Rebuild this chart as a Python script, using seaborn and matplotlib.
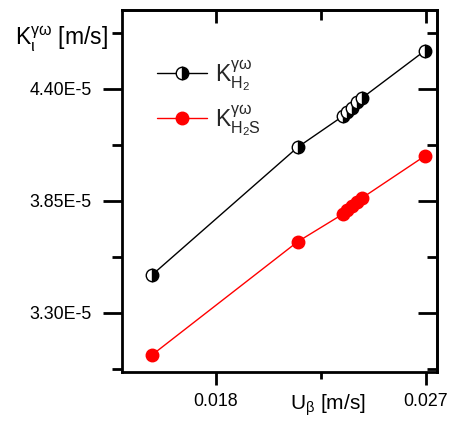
import numpy as np
import pandas as pd
import matplotlib
matplotlib.use("Agg")
import matplotlib.pyplot as plt
from matplotlib.ticker import MultipleLocator, FuncFormatter
import seaborn as sns

# Flow velocity U_beta [m/s] shared by both gases
u_beta = [0.01526, 0.0215, 0.02344, 0.02363, 0.02383, 0.02406, 0.02426, 0.02695]
# Mass transfer coefficient K [m/s]
k_h2 = [3.487e-5, 4.114e-5, 4.267e-5, 4.287e-5, 4.309e-5, 4.334e-5, 4.356e-5, 4.588e-5]
k_h2s = [3.094e-5, 3.650e-5, 3.786e-5, 3.806e-5, 3.825e-5, 3.845e-5, 3.865e-5, 4.071e-5]

labels = [r"K$^{\gamma\omega}_{\mathregular{H_2}}$", r"K$^{\gamma\omega}_{\mathregular{H_2S}}$"]

sns.set_theme(style="white")
plt.rcParams["font.family"] = ["Liberation Sans", "DejaVu Sans"]
plt.rcParams["mathtext.fontset"] = "custom"
plt.rcParams["mathtext.rm"] = "Liberation Sans"
plt.rcParams["mathtext.it"] = "Liberation Sans"
plt.rcParams["mathtext.bf"] = "Liberation Sans:bold"

df = pd.DataFrame({"u": u_beta, "h2": k_h2, "h2s": k_h2s})

fig = plt.figure(figsize=(4.5, 4.22), dpi=100)
ax = fig.add_axes([122 / 450, 1 - 372 / 422, 315 / 450, 362 / 422])

sns.lineplot(data=df, x="u", y="h2", ax=ax, color="black", lw=1.0,
             marker="o", markersize=9, fillstyle="right",
             markerfacecolor="black", markerfacecoloralt="white",
             markeredgecolor="black", markeredgewidth=1.0, label=labels[0])
sns.lineplot(data=df, x="u", y="h2s", ax=ax, color="red", lw=1.0,
             marker="o", markersize=9, markerfacecolor="red",
             markeredgecolor="red", markeredgewidth=1.0, label=labels[1])

ax.set_xlim(0.01397, 0.02747)
ax.set_ylim(3.010e-5, 4.788e-5)

ax.xaxis.set_major_locator(MultipleLocator(0.009))
ax.xaxis.set_minor_locator(MultipleLocator(0.0045))
ax.yaxis.set_major_locator(MultipleLocator(0.55e-5))
ax.yaxis.set_minor_locator(MultipleLocator(0.275e-5))
ax.xaxis.set_major_formatter(FuncFormatter(lambda v, p: f"{v:.3f}"))
ax.yaxis.set_major_formatter(FuncFormatter(lambda v, p: f"{v * 1e5:.2f}E-5"))

for s in ax.spines.values():
    s.set_linewidth(2.0)
    s.set_color("black")

ax.tick_params(axis="both", which="both", direction="out", width=2.0,
               color="black", labelsize=12.8, labelcolor="black")
ax.tick_params(axis="x", which="major", length=9, pad=6)
ax.tick_params(axis="x", which="minor", length=5)
ax.tick_params(axis="y", which="major", length=14, pad=8)
ax.tick_params(axis="y", which="minor", length=7.5)
ax.tick_params(bottom=True, left=True, which="both")

# Inward ticks on the top and right frame
top = ax.secondary_xaxis("top")
top.xaxis.set_major_locator(MultipleLocator(0.009))
top.xaxis.set_minor_locator(MultipleLocator(0.0045))
top.tick_params(which="both", direction="in", width=2.0, labeltop=False, color="black")
top.tick_params(which="major", length=9)
top.tick_params(which="minor", length=7.5)
top.spines["top"].set_linewidth(2.0)

right = ax.secondary_yaxis("right")
right.yaxis.set_major_locator(MultipleLocator(0.55e-5))
right.yaxis.set_minor_locator(MultipleLocator(0.275e-5))
right.tick_params(which="both", direction="in", width=2.0, labelright=False, color="black")
right.tick_params(which="major", length=14)
right.tick_params(which="minor", length=7.5)
right.spines["right"].set_linewidth(2.0)

ax.set_xlabel(r"U$_\beta$ [m/s]", fontsize=15, color="black")
ax.xaxis.set_label_coords(0.655, -0.058)
ax.set_ylabel("")
fig.text(108 / 450, 1 - 46 / 422, r"K$^{\gamma\omega}_{\iota}$ [m/s]", fontsize=16.5,
         ha="right", va="baseline", color="black")

leg = ax.legend(loc="upper left", bbox_to_anchor=(0.045, 0.925), frameon=False,
                fontsize=16.5, handlelength=2.2, handletextpad=0.35, labelspacing=0.45)

fig.savefig("out.png", dpi=100)
